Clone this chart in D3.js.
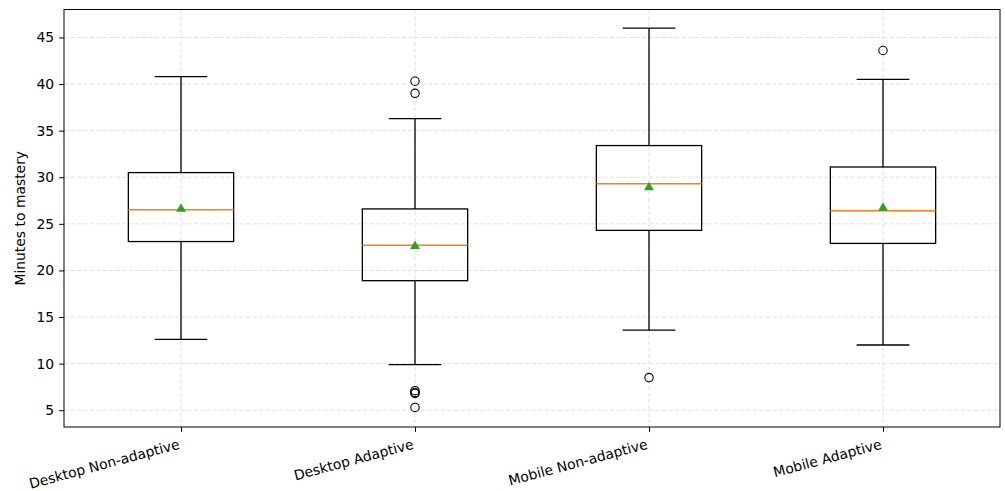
<!DOCTYPE html>
<html>
<head>
<meta charset="utf-8">
<script src="https://cdn.jsdelivr.net/npm/d3@7"></script>
<style>
  body { margin: 0; background: #fff; }
  svg { display: block; }
</style>
</head>
<body>
<svg width="1005" height="491"></svg>
<script>
// Values.
const categories = ["Desktop Non-adaptive", "Desktop Adaptive", "Mobile Non-adaptive", "Mobile Adaptive"];
const whiskerLow = [12.6, 9.9, 13.6, 12.0];
const q1 = [23.1, 18.9, 24.3, 22.9];
const median = [26.5, 22.7, 29.3, 26.4];
const q3 = [30.5, 26.6, 33.4, 31.1];
const whiskerHigh = [40.8, 36.3, 46.0, 40.5];
const means = [26.6, 22.6, 28.9, 26.7];
const outliers = [[], [40.3, 39.0, 7.1, 6.9, 6.8, 5.3], [8.5], [43.6]];
const yTicks = [5, 10, 15, 20, 25, 30, 35, 40, 45];

const FONT = "DejaVu Sans, sans-serif";
const FONT_SIZE = 13.9;

function initGraph() {
  const svg = d3.select("svg");
  const margin = {top: 9.5, right: 5, bottom: 64, left: 64};
  const width = +svg.attr("width") - margin.left - margin.right;
  const height = +svg.attr("height") - margin.top - margin.bottom;

  const content = svg.append("g")
    .attr("transform", "translate(" + margin.left + "," + margin.top + ")");

  const xScale = d3.scaleLinear().domain([0.5, 4.5]).range([0, width]);
  const yScale = d3.scaleLinear().domain([3.2, 48.0]).range([height, 0]);

  return {svg, content, margin, width, height, xScale, yScale};
}

function drawGrid(graph) {
  const {content, xScale, yScale, width, height} = graph;
  const grid = content.append("g")
    .attr("stroke", "#b0b0b0")
    .attr("stroke-opacity", 0.5)
    .attr("stroke-width", 0.8)
    .attr("stroke-dasharray", "4,2.5");

  grid.selectAll(".hgrid")
    .data(yTicks)
    .enter()
    .append("line")
    .attr("x1", 0).attr("x2", width)
    .attr("y1", d => yScale(d)).attr("y2", d => yScale(d));

  grid.selectAll(".vgrid")
    .data(categories)
    .enter()
    .append("line")
    .attr("y1", 0).attr("y2", height)
    .attr("x1", (d, i) => xScale(i + 1)).attr("x2", (d, i) => xScale(i + 1));
}

function drawAxes(graph) {
  const {content, xScale, yScale, width, height} = graph;

  const yAxis = d3.axisLeft(yScale).tickValues(yTicks).tickSize(4.9).tickPadding(5);
  const yg = content.append("g").attr("class", "y axis").call(yAxis)
    .attr("font-family", FONT).attr("font-size", FONT_SIZE);
  yg.select(".domain").remove();
  yg.selectAll("text").attr("fill", "#000");

  const xAxis = d3.axisBottom(xScale)
    .tickValues([1, 2, 3, 4])
    .tickFormat(d => categories[d - 1])
    .tickSize(4.9);
  const xg = content.append("g")
    .attr("class", "x axis")
    .attr("transform", "translate(0," + height + ")")
    .call(xAxis)
    .attr("font-family", FONT).attr("font-size", FONT_SIZE);
  xg.select(".domain").remove();
  xg.selectAll("text")
    .attr("fill", "#000")
    .attr("text-anchor", "end")
    .attr("dy", null)
    .attr("y", 0)
    .attr("transform", "translate(-1,21.5) rotate(-15)");

  // Frame around the plotting area.
  content.append("rect")
    .attr("width", width)
    .attr("height", height)
    .attr("fill", "none")
    .attr("stroke", "#000")
    .attr("stroke-width", 1);

  graph.svg.append("text")
    .attr("transform", "translate(25," + (graph.margin.top + height / 2) + ") rotate(-90)")
    .attr("text-anchor", "middle")
    .attr("font-family", FONT)
    .attr("font-size", FONT_SIZE)
    .text("Minutes to mastery");
}

function drawBoxes(graph) {
  const {content, xScale, yScale} = graph;
  const boxW = xScale(1.225) - xScale(0.775);
  const capW = boxW / 2;
  const boxes = content.selectAll(".box")
    .data(categories)
    .enter()
    .append("g")
    .attr("class", "box")
    .attr("transform", (d, i) => "translate(" + xScale(i + 1) + ",0)");

  const stroke = "#000";
  const sw = 1.3;

  // Whiskers and caps.
  boxes.append("line")
    .attr("y1", (d, i) => yScale(q3[i])).attr("y2", (d, i) => yScale(whiskerHigh[i]))
    .attr("stroke", stroke).attr("stroke-width", sw);
  boxes.append("line")
    .attr("y1", (d, i) => yScale(q1[i])).attr("y2", (d, i) => yScale(whiskerLow[i]))
    .attr("stroke", stroke).attr("stroke-width", sw);
  boxes.append("line")
    .attr("x1", -capW / 2).attr("x2", capW / 2)
    .attr("y1", (d, i) => yScale(whiskerHigh[i])).attr("y2", (d, i) => yScale(whiskerHigh[i]))
    .attr("stroke", stroke).attr("stroke-width", sw);
  boxes.append("line")
    .attr("x1", -capW / 2).attr("x2", capW / 2)
    .attr("y1", (d, i) => yScale(whiskerLow[i])).attr("y2", (d, i) => yScale(whiskerLow[i]))
    .attr("stroke", stroke).attr("stroke-width", sw);

  // Box.
  boxes.append("rect")
    .attr("x", -boxW / 2)
    .attr("width", boxW)
    .attr("y", (d, i) => yScale(q3[i]))
    .attr("height", (d, i) => yScale(q1[i]) - yScale(q3[i]))
    .attr("fill", "none")
    .attr("stroke", stroke).attr("stroke-width", sw);

  // Median.
  boxes.append("line")
    .attr("x1", -boxW / 2).attr("x2", boxW / 2)
    .attr("y1", (d, i) => yScale(median[i])).attr("y2", (d, i) => yScale(median[i]))
    .attr("stroke", "#ff7f0e").attr("stroke-width", 1.5);

  // Mean marker.
  const tri = d3.symbol().type(d3.symbolTriangle).size(42);
  boxes.append("path")
    .attr("d", tri)
    .attr("transform", (d, i) => "translate(0," + yScale(means[i]) + ")")
    .attr("fill", "#2ca02c");

  // Fliers.
  boxes.selectAll(".flier")
    .data((d, i) => outliers[i])
    .enter()
    .append("circle")
    .attr("cy", v => yScale(v))
    .attr("r", 4.2)
    .attr("fill", "none")
    .attr("stroke", "#000")
    .attr("stroke-width", 1.1);
}

window.addEventListener("load", function() {
  const graph = initGraph();
  drawGrid(graph);
  drawBoxes(graph);
  drawAxes(graph);
});
</script>
</body>
</html>
